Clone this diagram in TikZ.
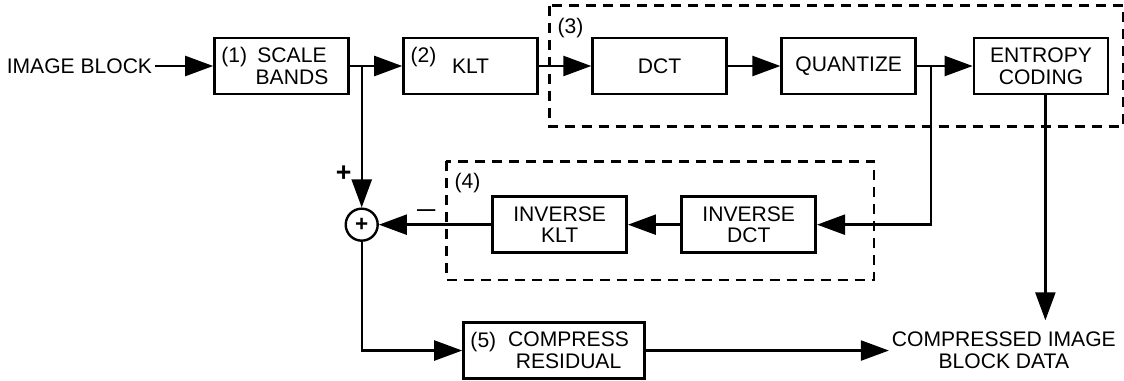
\documentclass[tikz,border=0pt]{standalone}
\usepackage{fontspec}
\setmainfont{Liberation Sans}
\usetikzlibrary{positioning, shapes, arrows.meta, calc}

\begin{document}
\begin{tikzpicture}[
		font=\fontsize{15}{15.5}\selectfont,
		box/.style={rectangle, draw, line width=1.9pt, minimum width=3.35cm, minimum height=1.4cm, align=center, inner sep=0pt},
		numlbl/.style={inner sep=0pt},
		flow/.style={line width=1.7pt, -{Triangle[length=0.7cm, width=0.5cm]}},
		groupbox/.style={line width=1.7pt, dash pattern=on 0.25cm off 0.175cm},
		sumnode/.style={circle, draw, line width=1.7pt, minimum size=0.8cm, inner sep=0pt}]

					\useasboundingbox (0,0) rectangle (28.1,-9.525);

					% Catena diretta
					\node[box] (scale) at (7.0375,-1.65) {\hspace*{0.525cm}SCALE\\\hspace*{0.525cm}BANDS};
					\node[numlbl, below right=0.25cm and 0.2cm of scale.north west] (lbl1) {(1)};
					\node[inner sep=2pt, left=1.45cm of scale] (imgblk) {IMAGE BLOCK};
					\node[box, right=1.31cm of scale] (klt) {KLT};
					\node[numlbl, below right=0.25cm and 0.2cm of klt.north west] (lbl2) {(2)};
					\node[box, right=1.31cm of klt] (dct) {DCT};
					\node[box, right=1.31cm of dct] (quant) {QUANTIZE};
					\node[box, right=1.39cm of quant] (entropy) {ENTROPY\\CODING};

					% Gruppo (3)
					\coordinate (g3nw) at ($(dct.north west)+(-1.05,0.775)$);
					\coordinate (g3se) at ($(entropy.south east)+(0.35,-0.775)$);
					\draw[groupbox] (g3nw) rectangle (g3se);
					\node[numlbl, below right=0.3cm and 0.2cm of g3nw] (lbl3) {(3)};

					% Ramo inverso
					\node[box, below=2.5cm of quant, xshift=-2.5cm] (invdct) {INVERSE\\DCT};
					\node[box, left=1.31cm of invdct] (invklt) {INVERSE\\KLT};
					\node[sumnode, left=2.81cm of invklt, font=\fontsize{16}{16}\selectfont\bfseries] (sum) {+};
					\node[inner sep=0pt, above=0.65cm of sum, xshift=-0.45cm, font=\fontsize{19}{19}\selectfont\bfseries] (plus) {+};
					\node[inner sep=0pt, right=0.95cm of sum, yshift=0.3cm, font=\fontsize{13}{13}\selectfont\bfseries] (minus) {---};

					% Gruppo (4)
					\coordinate (g4nw) at ($(invklt.north west)+(-1.125,0.85)$);
					\coordinate (g4se) at ($(invdct.south east)+(1.425,-0.65)$);
					\draw[groupbox] (g4nw) rectangle (g4se);
					\node[numlbl, below right=0.3cm and 0.2cm of g4nw] (lbl4) {(4)};

					% Residuo
					\node[box, minimum width=4.525cm, below=1.68cm of invklt, xshift=-0.14cm] (compress) {\hspace*{0.725cm}COMPRESS\\\hspace*{0.725cm}RESIDUAL};
					\node[numlbl, below right=0.275cm and 0.2cm of compress.north west] (lbl5) {(5)};
					\node[inner sep=2pt, align=center, right=6.075cm of compress] (cmpdata) {COMPRESSED IMAGE\\BLOCK DATA};

					% Connessioni
					\coordinate (stap) at (scale.east -| sum);
					\coordinate (qtap) at ($(quant.east)+(0.35,0)$);
					\coordinate (etap) at ($(entropy.south)+(0.11,0)$);
					\coordinate[above=0.22cm of cmpdata.north] (datain);
					\draw[flow] (imgblk) -- (scale);
					\draw[flow] (scale) -- (klt);
					\draw[flow] (klt) -- (dct);
					\draw[flow] (dct) -- (quant);
					\draw[flow] (quant) -- (entropy);
					\draw[flow] (stap) -- (sum);
					\draw[flow] (qtap) |- (invdct);
					\draw[flow] (invdct) -- (invklt);
					\draw[flow] (invklt) -- (sum);
					\draw[flow] (sum) |- (compress);
					\draw[flow] (compress) -- (cmpdata);
					\draw[flow] (etap) -- (etap |- datain);
\end{tikzpicture}
\end{document}
